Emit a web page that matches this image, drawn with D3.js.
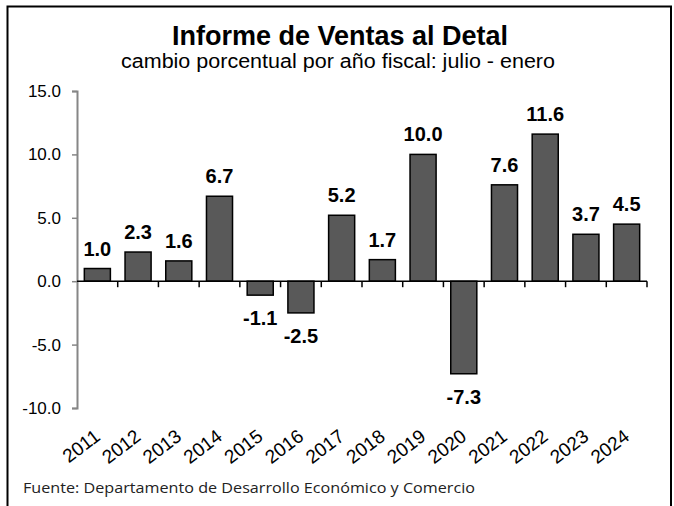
<!DOCTYPE html>
<html>
<head>
<meta charset="utf-8">
<script src="https://cdn.jsdelivr.net/npm/d3@7"></script>
<style>
  body { margin: 0; background: #fff; }
  text { font-family: "Liberation Sans", Arial, sans-serif; }
</style>
</head>
<body>
<div id="container"></div>
<script>
/* CONSTANTS AND GLOBALS */
const width = 674,
  height = 506,
  margin = { top: 91, bottom: 98, left: 77, right: 27 };

/* DATA */
const years = ["2011", "2012", "2013", "2014", "2015", "2016", "2017",
  "2018", "2019", "2020", "2021", "2022", "2023", "2024"];
const changes = [1.0, 2.3, 1.6, 6.7, -1.1, -2.5, 5.2, 1.7, 10.0, -7.3, 7.6, 11.6, 3.7, 4.5];
const yTicks = [-10, -5, 0, 5, 10, 15];

const title = "Informe de Ventas al Detal";
const subtitle = "cambio porcentual por año fiscal: julio - enero";
const source = "Fuente: Departamento de Desarrollo Económico y Comercio";

const data = years.map((y, i) => ({ year: y, value: changes[i] }));

// svg
const svg = d3.select("#container")
  .append("svg")
  .attr("width", width)
  .attr("height", height);

// frame round the whole chart (bottom edge runs off the picture)
svg.append("rect")
  .attr("x", 7.5)
  .attr("y", 6.5)
  .attr("width", 663.5)
  .attr("height", 520)
  .attr("fill", "none")
  .attr("stroke", "#000")
  .attr("stroke-width", 2);

/* SCALES */
const xScale = d3.scaleBand()
  .domain(years)
  .range([margin.left, width - margin.right])
  .paddingInner(0.36)
  .paddingOuter(0.18);

const yScale = d3.scaleLinear()
  .domain([-10, 15])
  .range([height - margin.bottom, margin.top]);

/* TITLES */
svg.append("text")
  .attr("x", 340)
  .attr("y", 45)
  .attr("text-anchor", "middle")
  .style("font-size", "27px")
  .style("font-weight", "bold")
  .text(title);

svg.append("text")
  .attr("x", 338)
  .attr("y", 68)
  .attr("text-anchor", "middle")
  .attr("textLength", 434)
  .attr("lengthAdjust", "spacingAndGlyphs")
  .style("font-size", "20px")
  .text(subtitle);

/* Y AXIS */
const yAxis = d3.axisLeft(yScale)
  .tickValues(yTicks)
  .tickSize(5)
  .tickPadding(11)
  .tickFormat(d => d.toFixed(1));

const gy = svg.append("g")
  .attr("transform", `translate(${margin.left}, 0)`)
  .call(yAxis);
gy.select(".domain").attr("stroke", "#868686").attr("stroke-width", 2);
gy.selectAll(".tick line").attr("stroke", "#868686").attr("stroke-width", 1.5);
gy.selectAll(".tick text")
  .attr("fill", "#000")
  .style("font-size", "17px")
  .style("font-family", "'Liberation Sans', Arial, sans-serif");

/* BARS */
svg.selectAll(".bar")
  .data(data)
  .join("rect")
  .attr("class", "bar")
  .attr("x", d => xScale(d.year))
  .attr("width", xScale.bandwidth())
  .attr("y", d => yScale(Math.max(0, d.value)))
  .attr("height", d => Math.abs(yScale(d.value) - yScale(0)))
  .attr("fill", "#595959")
  .attr("stroke", "#000")
  .attr("stroke-width", 1.5);

/* X AXIS at zero, ticks between categories */
const step = xScale.step();
svg.append("line")
  .attr("x1", margin.left)
  .attr("x2", width - margin.right)
  .attr("y1", yScale(0))
  .attr("y2", yScale(0))
  .attr("stroke", "#000")
  .attr("stroke-width", 1.5);

svg.selectAll(".xtick")
  .data(years)
  .join("line")
  .attr("class", "xtick")
  .attr("x1", d => xScale(d) - xScale.paddingOuter() * step + step)
  .attr("x2", d => xScale(d) - xScale.paddingOuter() * step + step)
  .attr("y1", yScale(0))
  .attr("y2", yScale(0) + 6)
  .attr("stroke", "#000")
  .attr("stroke-width", 1.5);

// year labels sit below the plot, rotated
svg.selectAll(".year-label")
  .data(data)
  .join("text")
  .attr("class", "year-label")
  .attr("text-anchor", "end")
  .attr("transform", d => `translate(${xScale(d.year) + xScale.bandwidth() / 2 + 4}, ${yScale(-10) + 31}) rotate(-37)`)
  .style("font-size", "19px")
  .text(d => d.year);

/* VALUE LABELS */
svg.selectAll(".value-label")
  .data(data)
  .join("text")
  .attr("class", "value-label")
  .attr("x", d => xScale(d.year) + xScale.bandwidth() / 2)
  .attr("y", d => d.value >= 0 ? yScale(d.value) - 13 : yScale(d.value) + 30)
  .attr("text-anchor", "middle")
  .style("font-size", "20px")
  .style("font-weight", "bold")
  .text(d => d.value.toFixed(1));

/* SOURCE */
svg.append("text")
  .attr("x", 23)
  .attr("y", 493)
  .attr("textLength", 452)
  .attr("lengthAdjust", "spacingAndGlyphs")
  .style("font-family", "'Open Sans', 'Noto Sans', sans-serif")
  .style("font-size", "15px")
  .attr("fill", "#222")
  .text(source);
</script>
</body>
</html>
